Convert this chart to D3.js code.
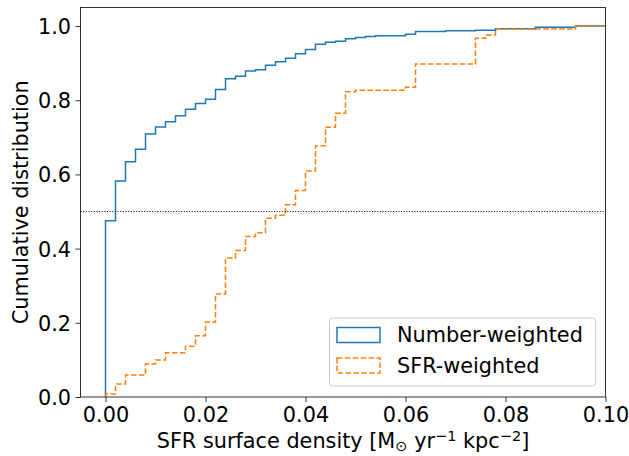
<!DOCTYPE html>
<html>
<head>
<meta charset="utf-8">
<script src="https://cdn.jsdelivr.net/npm/d3@7"></script>
<style>
  html, body { margin: 0; padding: 0; background: #fff; }
  svg { display: block; font-family: "DejaVu Sans", sans-serif; }
</style>
</head>
<body>
<svg id="chart" width="629" height="456"></svg>
<script>
// ---- data ----
const binWidth = 0.002;
const numberWeighted = [
  0.475, 0.582, 0.634, 0.668, 0.709, 0.728, 0.742, 0.758, 0.776, 0.791,
  0.803, 0.829, 0.858, 0.865, 0.879, 0.882, 0.894, 0.904, 0.913, 0.925,
  0.937, 0.951, 0.956, 0.959, 0.966, 0.969, 0.972, 0.974, 0.974, 0.974,
  0.978, 0.985, 0.985, 0.985, 0.987, 0.987, 0.987, 0.989, 0.989, 0.993,
  0.993, 0.993, 0.993, 0.997, 0.997, 0.997, 0.997, 1.000, 1.000, 1.000
];
const sfrWeighted = [
  0.008, 0.035, 0.059, 0.059, 0.089, 0.100, 0.119, 0.119, 0.137, 0.165,
  0.202, 0.278, 0.375, 0.395, 0.433, 0.443, 0.482, 0.490, 0.518, 0.557,
  0.609, 0.677, 0.727, 0.765, 0.823, 0.827, 0.827, 0.827, 0.827, 0.827,
  0.835, 0.898, 0.898, 0.898, 0.898, 0.898, 0.898, 0.967, 0.976, 0.992,
  0.992, 0.992, 0.992, 0.992, 0.992, 0.992, 0.992, 1.000, 1.000, 1.000
];
const seriesNames = ["Number-weighted", "SFR-weighted"];
const xTicks = [0.00, 0.02, 0.04, 0.06, 0.08, 0.10];
const yTicks = [0.0, 0.2, 0.4, 0.6, 0.8, 1.0];
const refLevel = 0.5;

// ---- layout ----
const svg = d3.select("#chart");
const L = 80.5, R = 605.5, T = 7.5, B = 397;
const x = d3.scaleLinear().domain([-0.005, 0.1]).range([L, R]);
const y = d3.scaleLinear().domain([0, 1.05]).range([B, T]);
const fs = 20.8;

svg.append("defs").append("clipPath").attr("id", "clip")
  .append("rect").attr("x", L).attr("y", T).attr("width", R - L).attr("height", B - T);

function stepPoints(vals) {
  const pts = [[0, 0]];
  vals.forEach((v, i) => pts.push([+(i * binWidth).toFixed(4), v]));
  pts.push([+(vals.length * binWidth).toFixed(4), vals[vals.length - 1]]);
  return pts;
}
const line = d3.line().x(d => x(d[0])).y(d => y(d[1])).curve(d3.curveStepAfter);

const plot = svg.append("g").attr("clip-path", "url(#clip)");
plot.append("path").datum(stepPoints(numberWeighted))
  .attr("d", line).attr("fill", "none").attr("stroke", "#1f77b4").attr("stroke-width", 1.5);
plot.append("path").datum(stepPoints(sfrWeighted))
  .attr("d", line).attr("fill", "none").attr("stroke", "#ff7f0e").attr("stroke-width", 1.5)
  .attr("stroke-dasharray", "5.5,2.4");
plot.append("line")
  .attr("x1", L).attr("x2", R).attr("y1", y(refLevel)).attr("y2", y(refLevel))
  .attr("stroke", "#000").attr("stroke-width", 1).attr("stroke-dasharray", "1,1.65");

// ---- axes ----
const xAxis = d3.axisBottom(x).tickValues(xTicks).tickFormat(d3.format(".2f")).tickSize(5).tickPadding(4.5);
const yAxis = d3.axisLeft(y).tickValues(yTicks).tickFormat(d3.format(".1f")).tickSize(5).tickPadding(4.5);
const gx = svg.append("g").attr("transform", `translate(0,${B})`).call(xAxis);
const gy = svg.append("g").attr("transform", `translate(${L},0)`).call(yAxis);
[gx, gy].forEach(g => {
  g.select(".domain").remove();
  g.selectAll(".tick line").attr("stroke", "#000").attr("stroke-width", 0.8);
  g.selectAll(".tick text").attr("font-size", fs).attr("fill", "#000").attr("font-family", "DejaVu Sans");
});
gx.selectAll(".tick text").attr("dy", "0.74em");
gy.selectAll(".tick text").attr("dy", "0.36em");

svg.append("rect").attr("x", L).attr("y", T).attr("width", R - L).attr("height", B - T)
  .attr("fill", "none").attr("stroke", "#000").attr("stroke-width", 0.8);

// ---- labels ----
const sub = fs * 0.7;
const xl = svg.append("text").attr("x", (L + R) / 2).attr("y", 448)
  .attr("text-anchor", "middle").attr("font-size", fs).attr("fill", "#000");
xl.append("tspan").text("SFR surface density [M");
xl.append("tspan").text("⊙").attr("font-size", sub).attr("dy", 3);
xl.append("tspan").text(" yr").attr("dy", -3);
xl.append("tspan").text("−1").attr("font-size", sub).attr("dy", -7);
xl.append("tspan").text(" kpc").attr("dy", 7);
xl.append("tspan").text("−2").attr("font-size", sub).attr("dy", -7);
xl.append("tspan").text("]").attr("dy", 7);

svg.append("text").attr("transform", `translate(28,${(T + B) / 2}) rotate(-90)`)
  .attr("text-anchor", "middle").attr("font-size", fs).attr("fill", "#000")
  .text("Cumulative distribution");

// ---- legend ----
const lg = svg.append("g");
lg.append("rect").attr("x", 329.5).attr("y", 318).attr("width", 266).attr("height", 68)
  .attr("rx", 3).attr("fill", "#fff").attr("fill-opacity", 0.8)
  .attr("stroke", "#ccc").attr("stroke-width", 1);
const legendStyles = [
  { color: "#1f77b4", dash: null },
  { color: "#ff7f0e", dash: "5.5,2.4" }
];
seriesNames.forEach((name, i) => {
  const cy = 335 + i * 30.5;
  lg.append("rect").attr("x", 337).attr("y", cy - 7.5).attr("width", 43).attr("height", 15)
    .attr("fill", "none").attr("stroke", legendStyles[i].color).attr("stroke-width", 1.5)
    .attr("stroke-dasharray", legendStyles[i].dash);
  lg.append("text").attr("x", 397).attr("y", cy).attr("dy", "0.36em")
    .attr("font-size", fs).attr("fill", "#000").text(name);
});
</script>
</body>
</html>
